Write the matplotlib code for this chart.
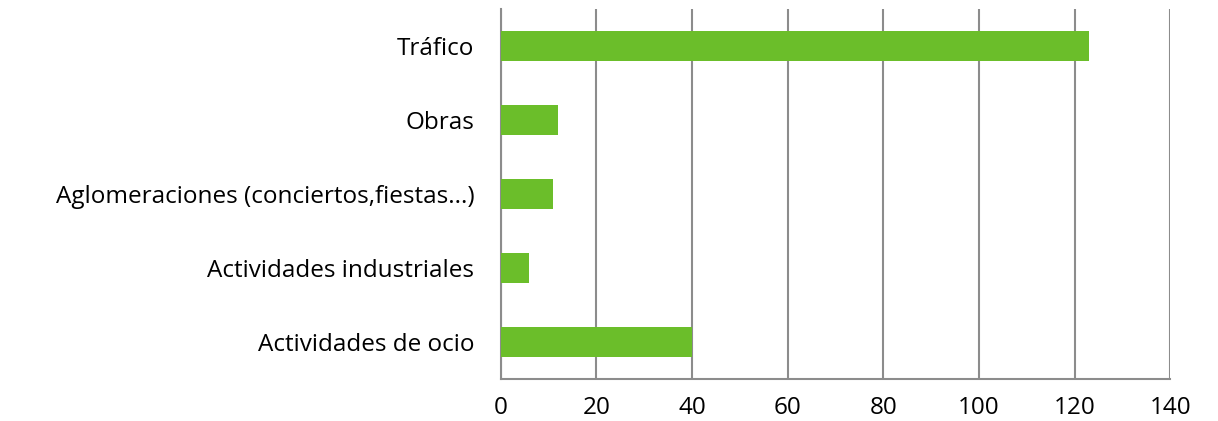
import matplotlib.pyplot as plt

categories = ['Tráfico', 'Obras', 'Aglomeraciones (conciertos,fiestas...)',
              'Actividades industriales', 'Actividades de ocio']
values = [123, 12, 11, 6, 40]
xticks = [0, 20, 40, 60, 80, 100, 120, 140]

plt.rcParams['font.family'] = ['Open Sans', 'DejaVu Sans']

fig = plt.figure(figsize=(12.18, 4.21), dpi=100)
ax = fig.add_axes([0.411, 0.1, 0.55, 0.879])

pos = list(range(len(categories)))[::-1]
ax.barh(pos, values, height=0.4, color='#6bbe2a', zorder=3)

ax.set_xlim(0, 140)
ax.set_ylim(-0.5, len(categories) - 0.5)
ax.set_xticks(xticks)
ax.set_yticks(pos)
ax.set_yticklabels(categories)
ax.tick_params(length=0, labelsize=17.5)
ax.tick_params(axis='y', pad=19)
ax.tick_params(axis='x', pad=12)
ax.xaxis.grid(True, color='#8c8c8c', linewidth=1.5, zorder=0)

for side in ['top', 'right']:
    ax.spines[side].set_visible(False)
for side in ['left', 'bottom']:
    ax.spines[side].set_color('#8c8c8c')
    ax.spines[side].set_linewidth(1.5)

fig.savefig('out.png', dpi=100)
